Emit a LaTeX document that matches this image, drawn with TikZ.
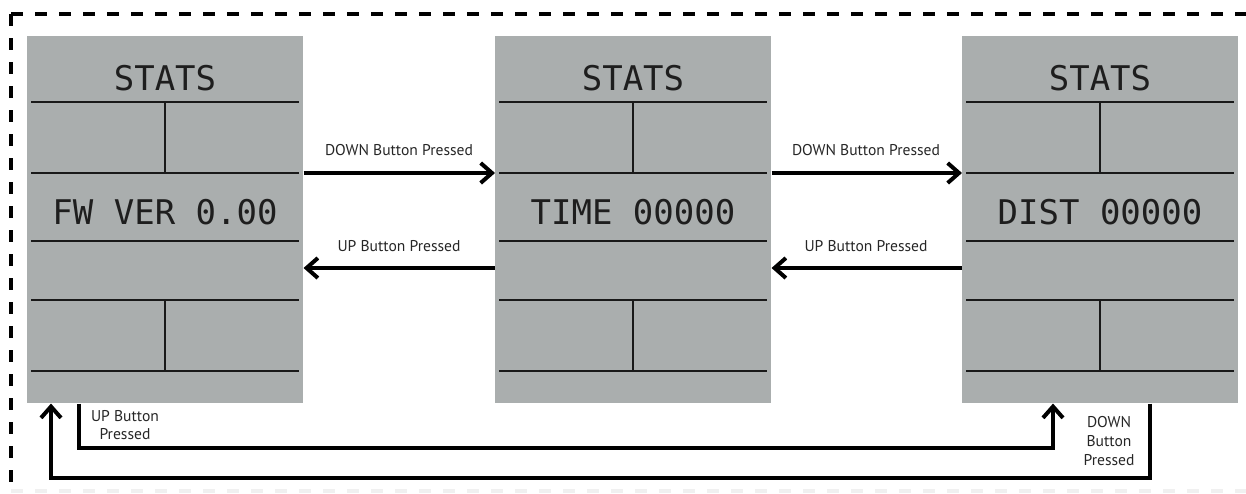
\documentclass[tikz,border=0pt]{standalone}
\usepackage{fontspec}
\setsansfont{PT Sans}
\newfontfamily\lcdfont{DejaVu Sans Mono}
\usetikzlibrary{arrows.meta,calc}
\definecolor{lcdgray}{RGB}{170,174,174}
\definecolor{lcdtext}{RGB}{30,30,30}
\begin{document}
\begin{tikzpicture}[x=0.75pt,y=-0.75pt,
  panel/.style={fill=lcdgray, draw=none, minimum width=207pt, minimum height=275.25pt, inner sep=0pt, anchor=north west},
  divline/.style={line width=2.2pt, black!90},
  arr/.style={line width=3pt, black, -{Straight Barb[length=8.5pt,width=15pt]}},
  lab/.style={font=\sffamily\fontsize{11.7pt}{13.5pt}\selectfont, text=black!85, align=center},
  lcd/.style={font=\lcdfont\fontsize{25.5pt}{26pt}\selectfont, text=lcdtext},
  border/.style={line width=3pt, dash pattern=on 9pt off 9pt}]
\useasboundingbox (0,0) rectangle (1246,493);
% border
\draw[border, black] (11,14) -- (1246,14);
\draw[border, black] (11,14) -- (11,493);
\draw[border, black!6] (11,491) -- (1246,491);
% panels
\node[panel] (p1) at (27,36) {};
\node[panel] (p2) at (495,36) {};
\node[panel] (p3) at (962,36) {};
\foreach \L/\n/\t in {27/p1/FW VER 0.00, 495/p2/TIME 00000, 962/p3/DIST 00000} {
  \foreach \yy in {102,173,241,300,371}
    \draw[divline] (\L+4,\yy) -- (\L+272,\yy);
  \draw[divline] (\L+138,102) -- (\L+138,173);
  \draw[divline] (\L+138,300) -- (\L+138,371);
  \node[lcd] (\n-s) at (\L+138,78) {STATS};
  \node[lcd] (\n-m) at (\L+138,212) {\t};
}
% horizontal connectors
\draw[arr] (p1.east |- 0,173) -- (p2.west |- 0,173);
\draw[arr] (p2.west |- 0,268) -- (p1.east |- 0,268);
\draw[arr] (p2.east |- 0,173) -- (p3.west |- 0,173);
\draw[arr] (p3.west |- 0,268) -- (p2.east |- 0,268);
\node[lab] (l1) at (399,150) {DOWN Button Pressed};
\node[lab] (l2) at (399,246) {UP Button Pressed};
\node[lab] (l3) at (866,150) {DOWN Button Pressed};
\node[lab] (l4) at (866,246) {UP Button Pressed};
% wrap-around connectors
\draw[arr] (p1.south -| 79,0) |- (1053,448) -- (p3.south -| 1053,0);
\draw[arr] (p3.south -| 1150,0) |- (51,478) -- (p1.south -| 51,0);
\node[lab] (l5) at (125,425) {UP Button\\Pressed};
\node[lab, font=\sffamily\fontsize{11.7pt}{14.25pt}\selectfont] (l6) at (1109,441) {DOWN\\Button\\Pressed};
\end{tikzpicture}
\end{document}
